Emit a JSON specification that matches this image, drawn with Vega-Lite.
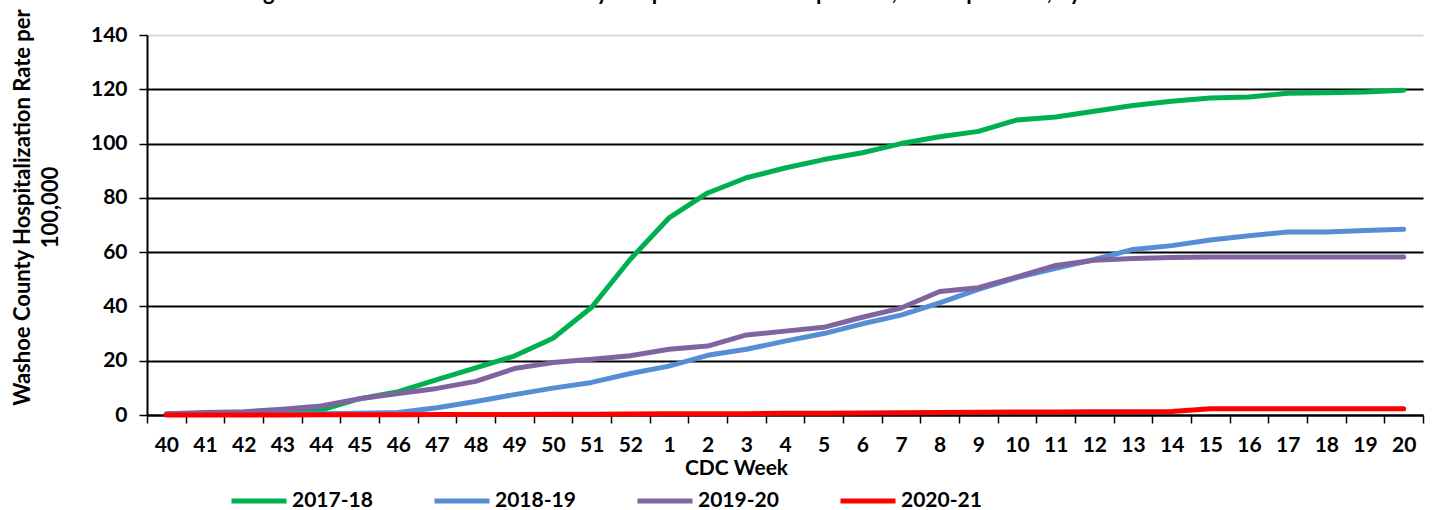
{
  "$schema": "https://vega.github.io/schema/vega-lite/v6.json",
  "width": 1276,
  "height": 380,
  "autosize": {"type": "none"},
  "padding": {"left": 147, "top": 35, "right": 9, "bottom": 95},
  "background": "white",
  "config": {
    "view": {"stroke": null},
    "font": "Lato",
    "axis": {"labelFont": "Lato", "titleFont": "Lato", "labelColor": "#000", "titleColor": "#000"}
  },
  "title": {
    "text": "Figure 3. Cumulative Washoe County Hospitalization Rate per 100,000 Population, by Week",
    "anchor": "start",
    "frame": "group",
    "dx": 98,
    "dy": -3,
    "offset": 0,
    "fontSize": 22,
    "font": "Lato",
    "fontWeight": "bold",
    "color": "#000"
  },
  "data": {
    "values": [
      {"season": "2017-18", "week": "40", "rate": 0.3},
      {"season": "2017-18", "week": "41", "rate": 0.6},
      {"season": "2017-18", "week": "42", "rate": 0.8},
      {"season": "2017-18", "week": "43", "rate": 1.2},
      {"season": "2017-18", "week": "44", "rate": 1.8},
      {"season": "2017-18", "week": "45", "rate": 6.0},
      {"season": "2017-18", "week": "46", "rate": 8.6},
      {"season": "2017-18", "week": "47", "rate": 13.0},
      {"season": "2017-18", "week": "48", "rate": 17.4},
      {"season": "2017-18", "week": "49", "rate": 21.7},
      {"season": "2017-18", "week": "50", "rate": 28.3},
      {"season": "2017-18", "week": "51", "rate": 39.7},
      {"season": "2017-18", "week": "52", "rate": 57.4},
      {"season": "2017-18", "week": "1", "rate": 72.6},
      {"season": "2017-18", "week": "2", "rate": 81.8},
      {"season": "2017-18", "week": "3", "rate": 87.4},
      {"season": "2017-18", "week": "4", "rate": 91.0},
      {"season": "2017-18", "week": "5", "rate": 94.1},
      {"season": "2017-18", "week": "6", "rate": 96.6},
      {"season": "2017-18", "week": "7", "rate": 100.0},
      {"season": "2017-18", "week": "8", "rate": 102.5},
      {"season": "2017-18", "week": "9", "rate": 104.5},
      {"season": "2017-18", "week": "10", "rate": 108.7},
      {"season": "2017-18", "week": "11", "rate": 109.8},
      {"season": "2017-18", "week": "12", "rate": 111.9},
      {"season": "2017-18", "week": "13", "rate": 114.0},
      {"season": "2017-18", "week": "14", "rate": 115.6},
      {"season": "2017-18", "week": "15", "rate": 116.8},
      {"season": "2017-18", "week": "16", "rate": 117.2},
      {"season": "2017-18", "week": "17", "rate": 118.5},
      {"season": "2017-18", "week": "18", "rate": 118.7},
      {"season": "2017-18", "week": "19", "rate": 119.0},
      {"season": "2017-18", "week": "20", "rate": 119.6},
      {"season": "2018-19", "week": "40", "rate": 0.3},
      {"season": "2018-19", "week": "41", "rate": 0.3},
      {"season": "2018-19", "week": "42", "rate": 0.3},
      {"season": "2018-19", "week": "43", "rate": 0.4},
      {"season": "2018-19", "week": "44", "rate": 0.5},
      {"season": "2018-19", "week": "45", "rate": 0.6},
      {"season": "2018-19", "week": "46", "rate": 0.9},
      {"season": "2018-19", "week": "47", "rate": 2.7},
      {"season": "2018-19", "week": "48", "rate": 5.0},
      {"season": "2018-19", "week": "49", "rate": 7.5},
      {"season": "2018-19", "week": "50", "rate": 9.9},
      {"season": "2018-19", "week": "51", "rate": 12.0},
      {"season": "2018-19", "week": "52", "rate": 15.3},
      {"season": "2018-19", "week": "1", "rate": 18.0},
      {"season": "2018-19", "week": "2", "rate": 22.0},
      {"season": "2018-19", "week": "3", "rate": 24.2},
      {"season": "2018-19", "week": "4", "rate": 27.2},
      {"season": "2018-19", "week": "5", "rate": 30.0},
      {"season": "2018-19", "week": "6", "rate": 33.6},
      {"season": "2018-19", "week": "7", "rate": 36.8},
      {"season": "2018-19", "week": "8", "rate": 41.3},
      {"season": "2018-19", "week": "9", "rate": 46.3},
      {"season": "2018-19", "week": "10", "rate": 50.6},
      {"season": "2018-19", "week": "11", "rate": 54.0},
      {"season": "2018-19", "week": "12", "rate": 57.3},
      {"season": "2018-19", "week": "13", "rate": 61.0},
      {"season": "2018-19", "week": "14", "rate": 62.4},
      {"season": "2018-19", "week": "15", "rate": 64.5},
      {"season": "2018-19", "week": "16", "rate": 66.0},
      {"season": "2018-19", "week": "17", "rate": 67.4},
      {"season": "2018-19", "week": "18", "rate": 67.4},
      {"season": "2018-19", "week": "19", "rate": 68.0},
      {"season": "2018-19", "week": "20", "rate": 68.4},
      {"season": "2019-20", "week": "40", "rate": 0.5},
      {"season": "2019-20", "week": "41", "rate": 0.9},
      {"season": "2019-20", "week": "42", "rate": 1.2},
      {"season": "2019-20", "week": "43", "rate": 2.1},
      {"season": "2019-20", "week": "44", "rate": 3.3},
      {"season": "2019-20", "week": "45", "rate": 6.0},
      {"season": "2019-20", "week": "46", "rate": 7.9},
      {"season": "2019-20", "week": "47", "rate": 9.8},
      {"season": "2019-20", "week": "48", "rate": 12.4},
      {"season": "2019-20", "week": "49", "rate": 17.1},
      {"season": "2019-20", "week": "50", "rate": 19.3},
      {"season": "2019-20", "week": "51", "rate": 20.5},
      {"season": "2019-20", "week": "52", "rate": 21.8},
      {"season": "2019-20", "week": "1", "rate": 24.2},
      {"season": "2019-20", "week": "2", "rate": 25.4},
      {"season": "2019-20", "week": "3", "rate": 29.5},
      {"season": "2019-20", "week": "4", "rate": 30.9},
      {"season": "2019-20", "week": "5", "rate": 32.3},
      {"season": "2019-20", "week": "6", "rate": 36.0},
      {"season": "2019-20", "week": "7", "rate": 39.4},
      {"season": "2019-20", "week": "8", "rate": 45.5},
      {"season": "2019-20", "week": "9", "rate": 46.9},
      {"season": "2019-20", "week": "10", "rate": 50.9},
      {"season": "2019-20", "week": "11", "rate": 55.1},
      {"season": "2019-20", "week": "12", "rate": 57.0},
      {"season": "2019-20", "week": "13", "rate": 57.7},
      {"season": "2019-20", "week": "14", "rate": 58.0},
      {"season": "2019-20", "week": "15", "rate": 58.2},
      {"season": "2019-20", "week": "16", "rate": 58.2},
      {"season": "2019-20", "week": "17", "rate": 58.2},
      {"season": "2019-20", "week": "18", "rate": 58.2},
      {"season": "2019-20", "week": "19", "rate": 58.2},
      {"season": "2019-20", "week": "20", "rate": 58.2},
      {"season": "2020-21", "week": "40", "rate": 0.0},
      {"season": "2020-21", "week": "41", "rate": 0.0},
      {"season": "2020-21", "week": "42", "rate": 0.0},
      {"season": "2020-21", "week": "43", "rate": 0.0},
      {"season": "2020-21", "week": "44", "rate": 0.1},
      {"season": "2020-21", "week": "45", "rate": 0.1},
      {"season": "2020-21", "week": "46", "rate": 0.1},
      {"season": "2020-21", "week": "47", "rate": 0.2},
      {"season": "2020-21", "week": "48", "rate": 0.2},
      {"season": "2020-21", "week": "49", "rate": 0.2},
      {"season": "2020-21", "week": "50", "rate": 0.3},
      {"season": "2020-21", "week": "51", "rate": 0.3},
      {"season": "2020-21", "week": "52", "rate": 0.4},
      {"season": "2020-21", "week": "1", "rate": 0.5},
      {"season": "2020-21", "week": "2", "rate": 0.5},
      {"season": "2020-21", "week": "3", "rate": 0.5},
      {"season": "2020-21", "week": "4", "rate": 0.6},
      {"season": "2020-21", "week": "5", "rate": 0.6},
      {"season": "2020-21", "week": "6", "rate": 0.7},
      {"season": "2020-21", "week": "7", "rate": 0.8},
      {"season": "2020-21", "week": "8", "rate": 0.9},
      {"season": "2020-21", "week": "9", "rate": 1.0},
      {"season": "2020-21", "week": "10", "rate": 1.1},
      {"season": "2020-21", "week": "11", "rate": 1.1},
      {"season": "2020-21", "week": "12", "rate": 1.2},
      {"season": "2020-21", "week": "13", "rate": 1.2},
      {"season": "2020-21", "week": "14", "rate": 1.3},
      {"season": "2020-21", "week": "15", "rate": 2.3},
      {"season": "2020-21", "week": "16", "rate": 2.3},
      {"season": "2020-21", "week": "17", "rate": 2.3},
      {"season": "2020-21", "week": "18", "rate": 2.3},
      {"season": "2020-21", "week": "19", "rate": 2.3},
      {"season": "2020-21", "week": "20", "rate": 2.3}
    ]
  },
  "mark": {"type": "line", "strokeWidth": 5, "strokeCap": "round", "strokeJoin": "round"},
  "encoding": {
    "x": {
      "field": "week",
      "type": "ordinal",
      "bandPosition": 0.5,
      "sort": ["40","41","42","43","44","45","46","47","48","49","50","51","52","1","2","3","4","5","6","7","8","9","10","11","12","13","14","15","16","17","18","19","20"],
      "scale": {"type": "band", "paddingInner": 0, "paddingOuter": 0},
      "axis": {
        "title": "CDC Week",
        "titleFontSize": 21,
        "titleFontWeight": "bold",
        "titleX": 589,
        "titleY": 53,
        "titleBaseline": "middle",
        "labelAngle": 0,
        "labelFontSize": 21,
        "labelFontWeight": "bold",
        "labelPadding": 11,
        "tickBand": "extent",
        "ticks": true,
        "tickSize": 8,
        "tickColor": "#000",
        "tickWidth": 1.5,
        "domainColor": "#000",
        "domainWidth": 2,
        "grid": false
      }
    },
    "y": {
      "field": "rate",
      "type": "quantitative",
      "scale": {"domain": [0, 140], "nice": false},
      "axis": {
        "title": ["Washoe County Hospitalization Rate per", "100,000"],
        "titleFontSize": 22,
        "titleFontWeight": "bold",
        "titleAngle": -90,
        "titleBaseline": "middle",
        "titleLineHeight": 28,
        "titleX": -125,
        "titleY": 172,
        "titleAlign": "center",
        "values": [0, 20, 40, 60, 80, 100, 120, 140],
        "labelFontSize": 21,
        "labelFontWeight": "bold",
        "labelPadding": 12,
        "tickSize": 8,
        "tickColor": "#000",
        "tickWidth": 1.5,
        "domainColor": "#000",
        "domainWidth": 2,
        "grid": true,
        "gridColor": {"condition": {"test": "datum.value === 140", "value": "#d9d9d9"}, "value": "#000"},
        "gridWidth": 2
      }
    },
    "color": {
      "field": "season",
      "type": "nominal",
      "scale": {
        "domain": ["2017-18", "2018-19", "2019-20", "2020-21"],
        "range": ["#00B050", "#558ED5", "#8064A2", "#FF0000"]
      },
      "legend": {
        "title": null,
        "orient": "none",
        "direction": "horizontal",
        "legendX": 82,
        "legendY": 436,
        "symbolType": "stroke",
        "symbolSize": 3025,
        "symbolStrokeWidth": 5,
        "labelFontSize": 21,
        "labelFontWeight": "bold",
        "labelFont": "Lato",
        "labelColor": "#000",
        "labelOffset": 3,
        "columnPadding": 51
      }
    }
  }
}
